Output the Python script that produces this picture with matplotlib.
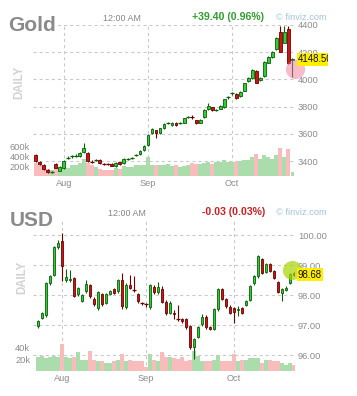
import matplotlib
matplotlib.use("Agg")
import matplotlib.pyplot as plt
import matplotlib.transforms as mtransforms
from matplotlib.patches import Rectangle

plt.rcParams['font.family'] = ['Liberation Sans', 'DejaVu Sans']
plt.rcParams['lines.scale_dashes'] = False

# ---------------- data ----------------
month_labels = ['Aug', 'Sep', 'Oct']

gold_open = [3444, 3395, 3370, 3335, 3320, 3380, 3330, 3345, 3422, 3433,
             3438, 3437, 3465, 3460, 3397, 3408, 3410, 3381, 3380, 3380,
             3360, 3390, 3385, 3413, 3423, 3443, 3450, 3480, 3517, 3605,
             3625, 3605, 3640, 3680, 3662, 3682, 3680, 3682, 3720, 3728,
             3700, 3682, 3721, 3780, 3795, 3774, 3786, 3795, 3866, 3895,
             3893, 3878, 3917, 3988, 4008, 4064, 3995, 4025, 4123, 4162,
             4221, 4351, 4270, 4368, 4140]
gold_high = [3450, 3400, 3375, 3340, 3330, 3385, 3360, 3405, 3435, 3445,
             3450, 3465, 3530, 3465, 3405, 3418, 3415, 3386, 3385, 3385,
             3390, 3395, 3420, 3425, 3432, 3452, 3480, 3518, 3595, 3640,
             3630, 3645, 3678, 3690, 3688, 3688, 3690, 3718, 3730, 3735,
             3705, 3710, 3780, 3825, 3800, 3785, 3810, 3858, 3880, 3910,
             3900, 3915, 3976, 4015, 4075, 4070, 4015, 4135, 4172, 4210,
             4310, 4393, 4393, 4393, 4160]
gold_low = [3395, 3370, 3335, 3315, 3312, 3345, 3325, 3340, 3415, 3425,
            3430, 3432, 3460, 3395, 3388, 3400, 3380, 3374, 3372, 3360,
            3355, 3370, 3380, 3408, 3418, 3438, 3445, 3475, 3512, 3600,
            3567, 3600, 3635, 3675, 3658, 3660, 3675, 3678, 3715, 3710,
            3670, 3678, 3718, 3775, 3768, 3770, 3780, 3790, 3855, 3888,
            3855, 3870, 3912, 3982, 4003, 3970, 3990, 4020, 4118, 4158,
            4215, 4200, 4265, 4110, 4018]
gold_close = [3400, 3375, 3340, 3320, 3322, 3350, 3355, 3400, 3426, 3437,
              3442, 3460, 3495, 3400, 3393, 3412, 3385, 3379, 3378, 3365,
              3385, 3375, 3415, 3417, 3427, 3447, 3475, 3512, 3590, 3635,
              3605, 3640, 3672, 3684, 3682, 3665, 3684, 3714, 3724, 3725,
              3677, 3705, 3775, 3805, 3775, 3778, 3805, 3853, 3870, 3900,
              3861, 3910, 3971, 4008, 4069, 3976, 4008, 4130, 4167, 4204,
              4302, 4204, 4351, 4118, 4148.5]
gold_volume = [266, 230, 220, 150, 120, 190, 120, 150, 170, 220,
               230, 270, 340, 270, 220, 190, 150, 120, 130, 120,
               165, 140, 200, 190, 190, 220, 230, 230, 390, 230,
               230, 230, 220, 240, 200, 220, 190, 200, 230, 260,
               240, 240, 260, 280, 250, 280, 280, 320, 280, 280,
               280, 300, 330, 330, 390, 450, 350, 420, 390, 350,
               420, 570, 390, 550, 90]  # thousands
gold_month_pos = [7, 28, 49]
gold_price_ticks = [3400, 3600, 3800, 4000, 4200, 4400]
gold_volume_ticks = [200, 400, 600]
gold_volume_labels = ['200k', '400k', '600k']
gold_change = '+39.40 (0.96%)'

usd_open = [96.96, 97.23, 97.32, 98.40, 98.68, 99.59, 99.79, 98.51, 98.50, 98.57,
            98.03, 97.81, 98.12, 98.32, 97.88, 97.57, 98.03, 97.73, 98.03, 98.21,
            98.12, 98.51, 97.59, 98.34, 98.19, 98.03, 97.74, 97.71, 97.59, 98.28,
            98.10, 98.19, 97.78, 97.41, 97.41, 97.21, 97.19, 97.19, 96.97, 96.28,
            96.61, 97.03, 97.28, 96.94, 96.86, 97.52, 98.19, 97.86, 97.61, 97.56,
            97.50, 97.56, 97.67, 97.83, 98.39, 98.63, 99.19, 98.78, 99.03, 98.81,
            98.44, 98.06, 98.18, 98.41, 98.74]
usd_high = [97.18, 97.45, 98.45, 98.68, 99.65, 99.85, 100.07, 98.88, 98.85, 98.60,
            98.28, 98.05, 98.50, 98.36, 97.92, 98.15, 98.06, 98.07, 98.16, 98.25,
            98.55, 98.74, 98.40, 98.67, 98.62, 98.07, 97.78, 97.75, 98.36, 98.32,
            98.45, 98.30, 97.82, 97.80, 97.50, 97.68, 97.25, 97.22, 97.00, 96.56,
            96.98, 97.38, 97.32, 96.98, 97.56, 98.22, 98.22, 97.90, 97.66, 97.60,
            97.62, 97.60, 97.85, 98.34, 98.66, 99.33, 99.23, 99.08, 99.06, 98.85,
            98.48, 98.23, 98.30, 98.74, 98.77]
usd_low = [96.90, 97.20, 97.28, 98.35, 98.62, 99.55, 98.47, 98.45, 98.45, 97.92,
           97.98, 97.76, 98.08, 97.90, 97.62, 97.50, 97.65, 97.70, 98.00, 98.02,
           98.08, 97.55, 97.55, 98.20, 98.10, 97.75, 97.68, 97.60, 97.55, 98.05,
           98.05, 97.72, 97.35, 97.38, 97.20, 97.12, 97.08, 96.88, 96.20, 95.87,
           96.56, 96.98, 96.88, 96.84, 96.82, 97.48, 97.82, 97.58, 97.36, 97.08,
           97.30, 97.38, 97.62, 97.80, 98.35, 98.58, 98.70, 98.74, 98.76, 98.52,
           98.06, 97.81, 98.12, 98.38, 98.64]
usd_close = [97.12, 97.40, 98.40, 98.62, 99.59, 99.73, 98.96, 98.59, 98.55, 97.96,
             98.23, 98.01, 98.37, 97.96, 97.70, 98.10, 97.70, 98.03, 98.12, 98.07,
             98.51, 97.62, 98.34, 98.24, 98.16, 97.79, 97.71, 97.69, 98.32, 98.10,
             98.28, 97.78, 97.41, 97.74, 97.37, 97.19, 97.13, 96.92, 96.26, 96.52,
             96.94, 97.26, 96.92, 96.88, 97.52, 98.19, 97.86, 97.63, 97.41, 97.42,
             97.54, 97.41, 97.81, 98.30, 98.63, 99.30, 98.74, 99.03, 98.80, 98.56,
             98.11, 98.19, 98.22, 98.70, 98.68]
usd_volume = [23, 25, 21, 23, 25, 23, 45, 24, 21, 23,
              31, 18, 18, 33, 19, 17, 16, 13, 13, 17,
              18, 28, 17, 19, 17, 17, 16, 6, 28, 19,
              17, 31, 24, 23, 21, 20, 23, 17, 18, 34,
              25, 16, 16, 17, 19, 27, 17, 17, 17, 29,
              16, 19, 18, 21, 21, 21, 13, 18, 18, 17,
              16, 13, 10, 13, 10]  # thousands
usd_month_pos = [6, 27, 49]
usd_price_ticks = [96, 97, 98, 99, 100]
usd_volume_ticks = [20, 40]
usd_volume_labels = ['20k', '40k']
usd_change = '-0.03 (0.03%)'

# ---------------- style ----------------
W, H = 357, 396
fig = plt.figure(figsize=(W / 100, H / 100), dpi=100)
fig.patch.set_facecolor('white')

GRID = '#c9c9c9'
TICK = '#8c8c8c'
UP_FACE, UP_EDGE = '#2fcf2f', '#0b5e0b'
DN_FACE, DN_EDGE = '#cc1414', '#6e0000'
VOL_UP, VOL_DN = '#abdcab', '#f8bcbc'


def rect(l, t, r, b):
    return [l / W, 1 - b / H, (r - l) / W, (b - t) / H]


def panel(box, o, h, l, c, vol, ylim, pticks, pfmt, vtop, vticks, vlabels,
          mpos, xlim):
    axv = fig.add_axes(rect(*box))
    axp = axv.twinx()
    for a in (axv, axp):
        for s in a.spines.values():
            s.set_visible(False)
        a.tick_params(length=0, labelsize=6.7, labelcolor=TICK)
    axv.set_facecolor('none')
    axv.set_xlim(*xlim)
    axp.set_ylim(*ylim)
    axv.set_ylim(0, vtop)

    # grid (under volume)
    gtrans = mtransforms.blended_transform_factory(axv.transAxes, axp.transData)
    for p in pticks:
        axv.plot([0, 1], [p, p], transform=gtrans, color=GRID, lw=0.8,
                 ls=(0, (2.2, 2.2)), zorder=0.5)
    for m in mpos:
        axv.axvline(m, color=GRID, lw=0.8, ls=(0, (2.2, 2.2)), zorder=0.5)

    n = len(c)
    xs = list(range(n))
    up = [cc >= oo for oo, cc in zip(o, c)]
    axv.bar(xs, vol, width=0.92, color=[VOL_UP if u else VOL_DN for u in up],
            zorder=2, linewidth=0)

    span = ylim[1] - ylim[0]
    for i in range(n):
        ec = UP_EDGE if up[i] else DN_EDGE
        fc = UP_FACE if up[i] else DN_FACE
        axp.vlines(i, l[i], h[i], color=ec, lw=0.8, zorder=3)
        bh = abs(c[i] - o[i])
        bot = min(o[i], c[i])
        if bh < span * 0.006:
            axp.hlines((o[i] + c[i]) / 2, i - 0.45, i + 0.45, color=ec,
                       lw=0.9, zorder=4)
        else:
            axp.add_patch(Rectangle((i - 0.36, bot), 0.72, bh, facecolor=fc,
                                    edgecolor=ec, lw=0.6, zorder=4))

    axv.set_xticks(mpos)
    axv.set_xticklabels(month_labels)
    axv.tick_params(axis='x', pad=2.5)
    axv.set_yticks(vticks)
    axv.set_yticklabels(vlabels)
    axv.tick_params(axis='y', pad=2)
    axp.set_yticks(pticks)
    axp.set_yticklabels([pfmt.format(p) for p in pticks])
    axp.tick_params(axis='y', pad=2.2)
    return axv, axp


gax_v, gax = panel((33, 25, 295, 176), gold_open, gold_high, gold_low,
                   gold_close, gold_volume, (4400 - 151 / 0.136, 4400),
                   gold_price_ticks, '{:.0f}', 3020, gold_volume_ticks,
                   gold_volume_labels, gold_month_pos, (-0.67, 64.66))
uax_v, uax = panel((33, 220, 295, 371), usd_open, usd_high, usd_low,
                   usd_close, usd_volume, (96 - 16 / 30, 100.5),
                   usd_price_ticks, '{:.2f}', 251.7, usd_volume_ticks,
                   usd_volume_labels, usd_month_pos, (-1.25, 64.25))


def ftext(x, y, s, **kw):
    return fig.text(x / W, 1 - y / H, s, **kw)


# titles and headers
for (name, tx, ty, dx, dy, cx, cy, chg, chgx, chgcol, fy_) in [
        ('Gold', 8, 31, 19.5, 82, 122, 21, gold_change, 192, '#2e9e2e', 20),
        ('USD', 10, 226, 22.5, 277, 126.5, 216, usd_change, 202, '#cc2020', 215)]:
    ftext(tx, ty, name, fontsize=15, weight='bold', color='#8a8a8a',
          va='baseline', ha='left',
          bbox=dict(boxstyle='square,pad=0.12', fc='white', ec='none'))
    ftext(dx, dy, 'DAILY', fontsize=8.3, weight='bold', color='#d2d2d2',
          rotation=90, ha='center', va='center')
    ftext(cx, cy, '12:00 AM', fontsize=6.4, color='#858585', ha='center',
          va='baseline')
    ftext(chgx, fy_, chg, fontsize=7.6, weight='bold', color=chgcol,
          ha='left', va='baseline')
    ftext(326.5, fy_, '\u00a9 finviz.com', fontsize=6.7, color='#a3c3e3',
          ha='right', va='baseline')

# last price markers
clip = mtransforms.TransformedBbox(
    mtransforms.Bbox.from_extents(0, 0, 328 / W, 1), fig.transFigure)
for ax, closes, fmt, ccol, calpha, off in [
        (gax, gold_close, '{:.2f}', '#f07898', 0.5, (2.5, 9.8)),
        (uax, usd_close, '{:.2f}', '#a8d400', 0.7, (-2.5, -5))]:
    n = len(closes)
    ctrans = ax.transData + mtransforms.ScaledTranslation(
        off[0] / 100, -off[1] / 100, fig.dpi_scale_trans)
    ax.plot([n - 1], [closes[-1]], 'o', ms=13.8, color=ccol, alpha=calpha,
            mec='none', clip_on=False, transform=ctrans, zorder=6)
    ltrans = mtransforms.blended_transform_factory(ax.transAxes, ax.transData) + \
        mtransforms.ScaledTranslation(3 / 100, 0, fig.dpi_scale_trans)
    t = fig.text(1, closes[-1], fmt.format(closes[-1]), transform=ltrans,
                 fontsize=6.9, color='#111111', ha='left', va='center',
                 bbox=dict(boxstyle='square,pad=0.15', fc='#ffee00', ec='none'))
    t.set_clip_on(True)
    t.set_clip_box(clip)

fig.savefig('out.png', dpi=100, facecolor='white')
